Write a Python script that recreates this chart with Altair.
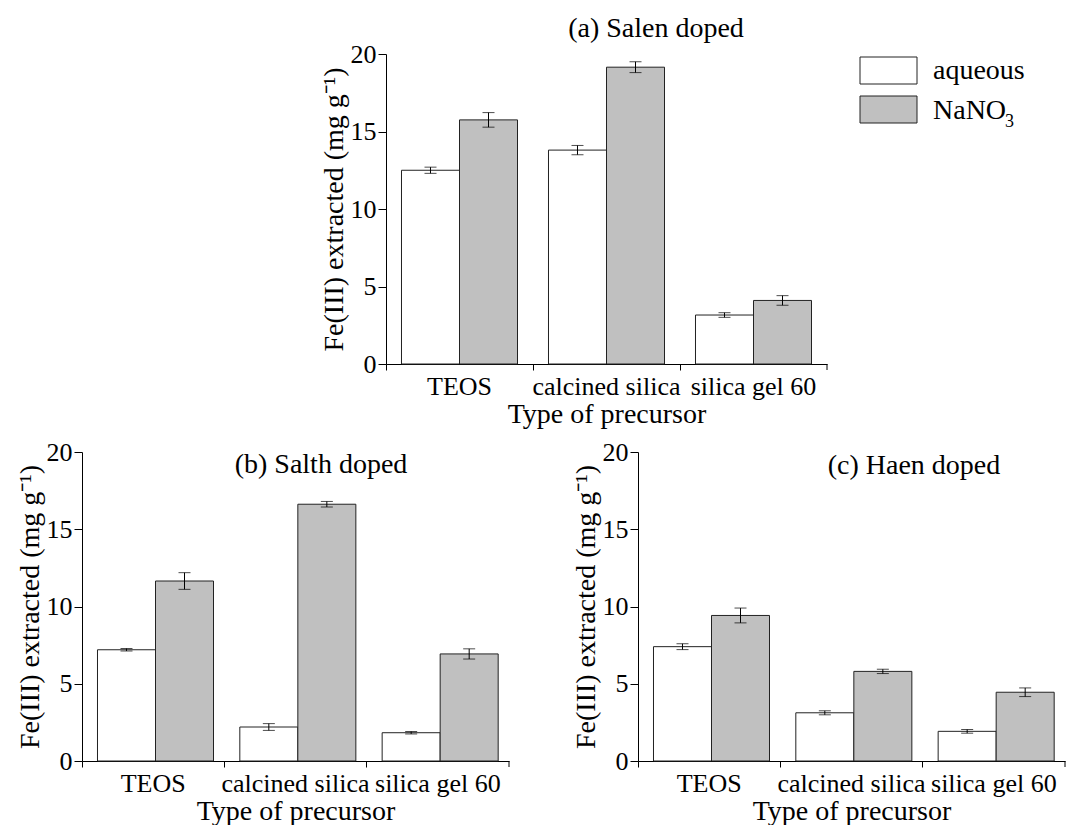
import altair as alt
import pandas as pd

FONT = "Liberation Serif, Times New Roman, serif"

categories = ["TEOS", "calcined silica", "silica gel 60"]
series = ["aqueous", "NaNO3"]
fills = ["#ffffff", "#c0c0c0"]

# (a) Salen doped
a_aqueous = [12.5, 13.8, 3.16]
a_aqueous_err = [0.2, 0.3, 0.15]
a_nano3 = [15.75, 19.15, 4.1]
a_nano3_err = [0.47, 0.35, 0.31]

# (b) Salth doped
b_aqueous = [7.2, 2.2, 1.83]
b_aqueous_err = [0.08, 0.22, 0.08]
b_nano3 = [11.65, 16.62, 6.93]
b_nano3_err = [0.54, 0.18, 0.33]

# (c) Haen doped
c_aqueous = [7.4, 3.12, 1.92]
c_aqueous_err = [0.19, 0.13, 0.12]
c_nano3 = [9.42, 5.8, 4.45]
c_nano3_err = [0.48, 0.14, 0.28]

y_ticks = [0, 2.5, 5, 7.5, 10, 12.5, 15, 17.5, 20]


def make_df(aq, aq_e, na, na_e):
    rows = []
    for i, c in enumerate(categories):
        rows.append(dict(cat=c, series="aqueous", val=aq[i], lo=aq[i] - aq_e[i], hi=aq[i] + aq_e[i]))
        rows.append(dict(cat=c, series="NaNO3", val=na[i], lo=na[i] - na_e[i], hi=na[i] + na_e[i]))
    return pd.DataFrame(rows)


def one():
    return pd.DataFrame({"k": [0]})


def panel(df, title, tx, ty, w, h, extra=None):
    x = alt.X(
        "cat:N", sort=categories, title="Type of precursor",
        scale=alt.Scale(paddingInner=0, paddingOuter=0),
        axis=alt.Axis(labelAngle=0, bandPosition=0, tickSize=6, labelPadding=3,
                      titlePadding=1, labelFontSize=26, titleFontSize=28),
    )
    xo = alt.XOffset("series:N", sort=series,
                     scale=alt.Scale(paddingOuter=0.267, paddingInner=0))
    y = alt.Y(
        "val:Q", title="Fe(III) extracted (mg g\u207b\u00b9)",
        scale=alt.Scale(domain=[0, 20], nice=False),
        axis=alt.Axis(values=y_ticks,
                      labelExpr="datum.value % 5 === 0 ? datum.label : ''",
                      tickSize={"condition": {"test": "datum.value % 5 === 0", "value": 8}, "value": 5},
                      labelPadding=2, titlePadding=2, labelFontSize=26, titleFontSize=28),
    )
    color = alt.Color("series:N", sort=series,
                      scale=alt.Scale(domain=series, range=fills), legend=None)
    base = alt.Chart(df).encode(x=x, xOffset=xo)
    bars = base.mark_bar(stroke="#222222", strokeWidth=1).encode(y=y, fill=color)
    rules = base.mark_rule(color="black", strokeWidth=1).encode(y="lo:Q", y2="hi:Q")
    cap_lo = base.mark_tick(color="black", thickness=1, size=12).encode(y="lo:Q")
    cap_hi = base.mark_tick(color="black", thickness=1, size=12).encode(y="hi:Q")
    end_tick = alt.Chart(one()).mark_rule(color="black", strokeWidth=1).encode(
        x=alt.value(w), y=alt.value(h), y2=alt.value(h + 6))
    ttl = alt.Chart(one()).mark_text(text=title, fontSize=28, font=FONT, baseline="middle",
                                     align="center", color="black").encode(
        x=alt.value(tx), y=alt.value(ty))
    layers = [bars, rules, cap_lo, cap_hi, end_tick, ttl]
    if extra:
        layers += extra
    return alt.layer(*layers).properties(width=w, height=h)


# Legend (drawn beside panel a)
leg = [
    alt.Chart(one()).mark_rect(fill=fills[0], stroke="#222222", strokeWidth=1).encode(
        x=alt.value(474), x2=alt.value(531), y=alt.value(3), y2=alt.value(30)),
    alt.Chart(one()).mark_rect(fill=fills[1], stroke="#222222", strokeWidth=1).encode(
        x=alt.value(474), x2=alt.value(531), y=alt.value(42), y2=alt.value(69)),
    alt.Chart(one()).mark_text(text="aqueous", fontSize=28, font=FONT, align="left",
                               baseline="alphabetic", color="black").encode(
        x=alt.value(547), y=alt.value(25)),
    alt.Chart(one()).mark_text(text="NaNO", fontSize=28, font=FONT, align="left",
                               baseline="alphabetic", color="black").encode(
        x=alt.value(547), y=alt.value(65)),
    alt.Chart(one()).mark_text(text="3", fontSize=18, font=FONT, align="left",
                               baseline="alphabetic", color="black").encode(
        x=alt.value(619), y=alt.value(73)),
]

pa = panel(make_df(a_aqueous, a_aqueous_err, a_nano3, a_nano3_err),
           "(a) Salen doped", 270, -25, 441, 310, extra=leg)
pb = panel(make_df(b_aqueous, b_aqueous_err, b_nano3, b_nano3_err),
           "(b) Salth doped", 239, 13, 427, 309)
pc = panel(make_df(c_aqueous, c_aqueous_err, c_nano3, c_nano3_err),
           "(c) Haen doped", 276, 14, 427, 309)

spacer = alt.Chart(one()).mark_point(opacity=0).encode(
    x=alt.X("k:Q", axis=None), y=alt.Y("k:Q", axis=None)).properties(width=237, height=10)

top = alt.hconcat(spacer, pa, spacing=0)
bottom = alt.hconcat(pb, pc, spacing=61)

chart = alt.vconcat(top, bottom, spacing=11).properties(
    padding={"left": 15, "top": 15, "right": 0, "bottom": 0},
    background="white",
).configure_view(stroke=None).configure_axis(
    labelFont=FONT, titleFont=FONT, labelColor="black", titleColor="black",
    domainColor="black", tickColor="black", titleFontWeight="normal", grid=False,
    domainWidth=1, tickWidth=1,
).configure_text(font=FONT)

chart.save("out.html", embed_options={"renderer": "svg", "actions": False})
